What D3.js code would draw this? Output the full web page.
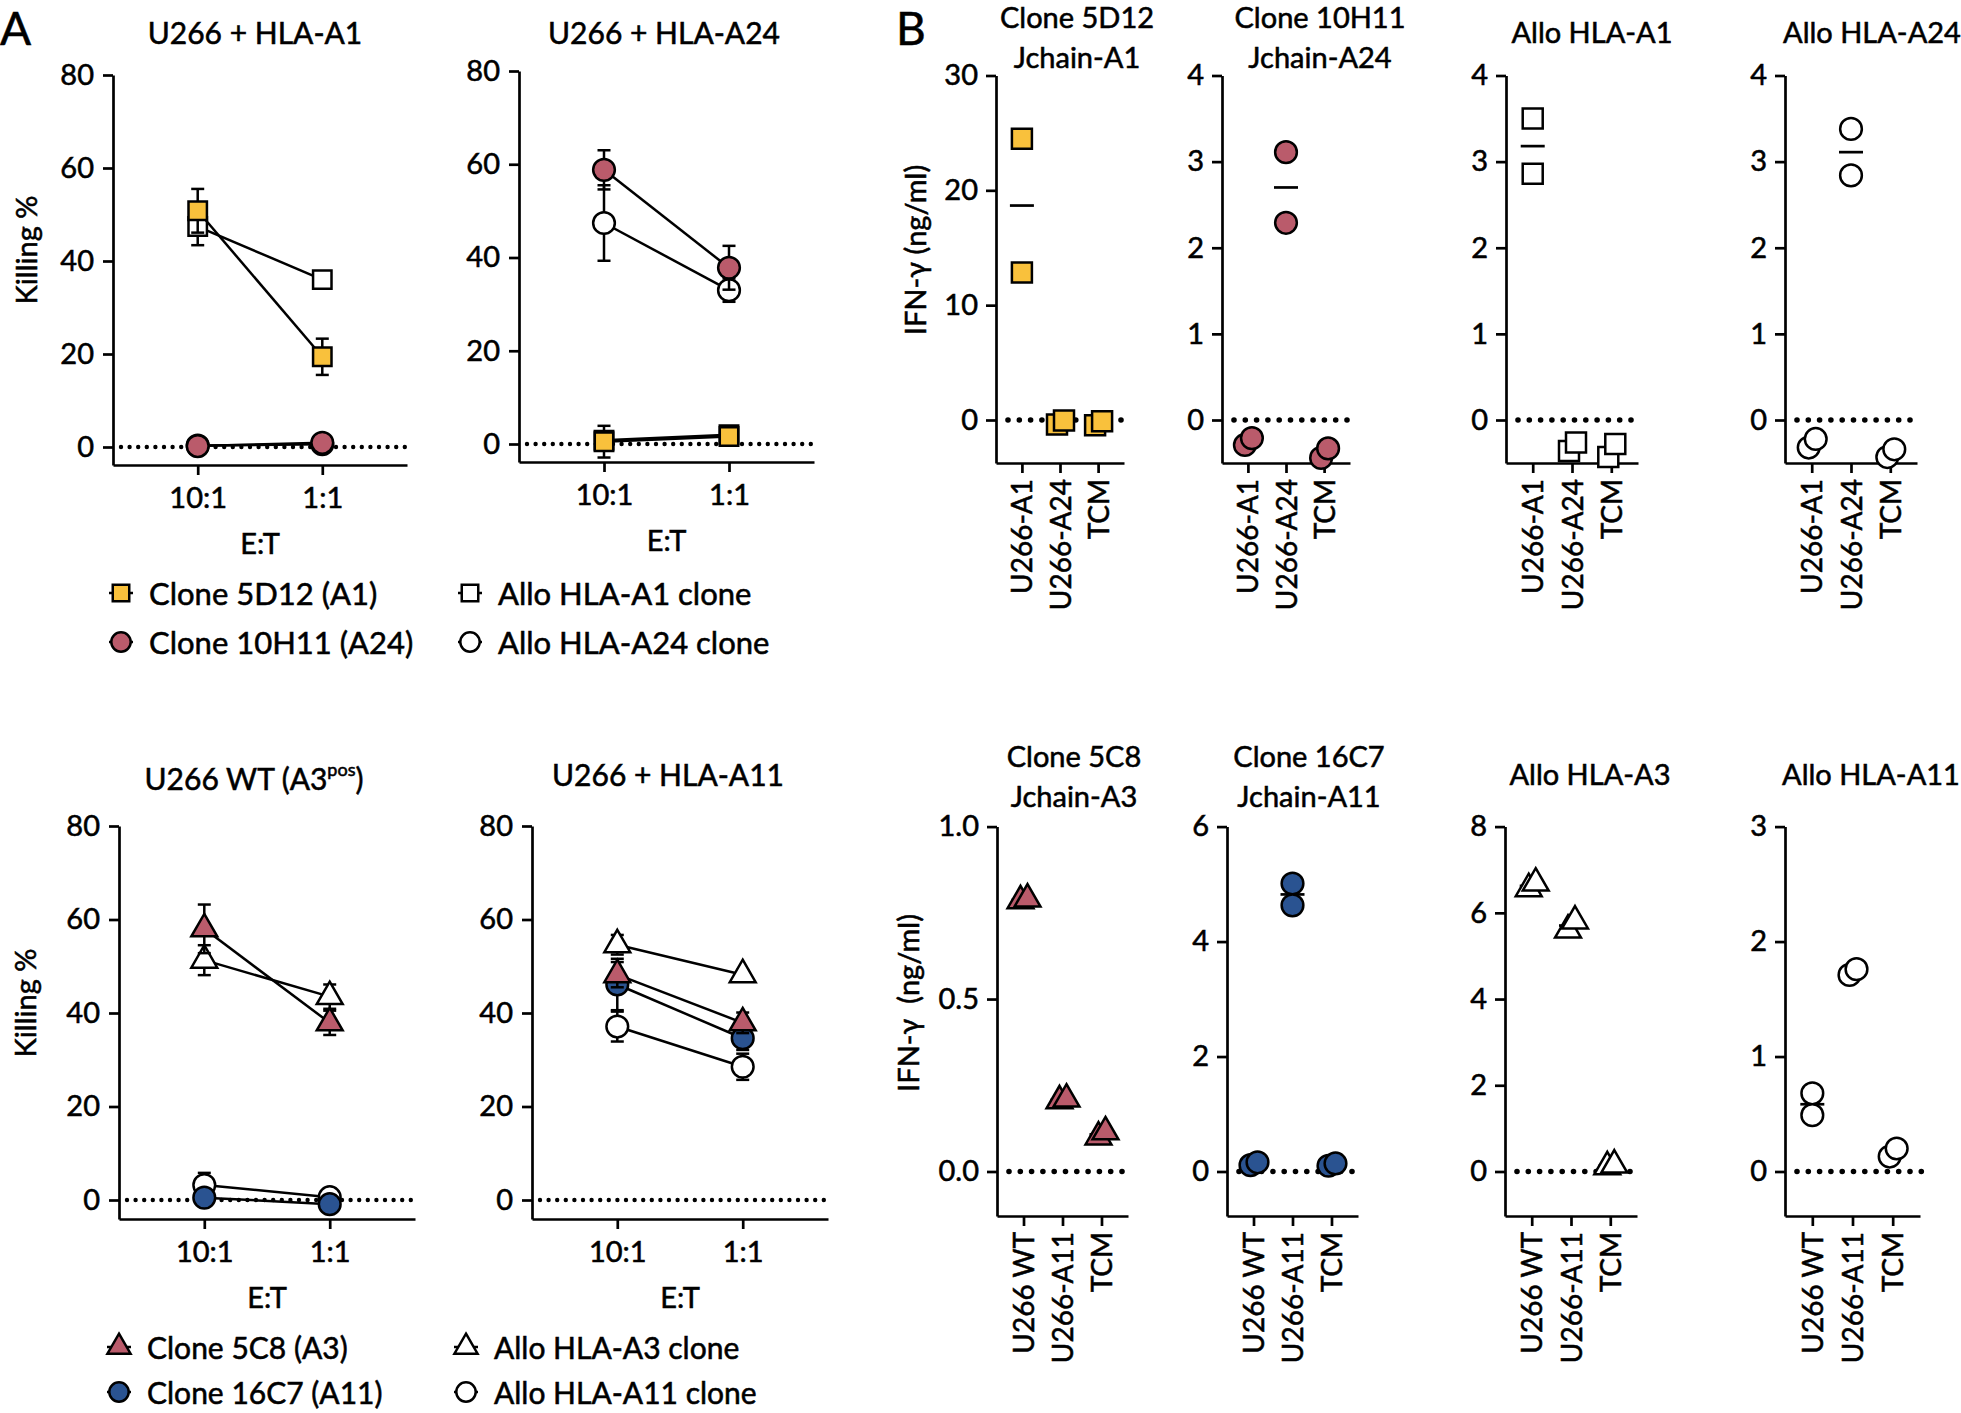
<!DOCTYPE html>
<html>
<head>
<meta charset="utf-8">
<script src="https://cdn.jsdelivr.net/npm/d3@7"></script>
<style>
  body { margin: 0; background: #fff; }
  svg text { font-family: Lato, "Open Sans", sans-serif; fill: #000; stroke: #000; stroke-width: 0.55px; }
</style>
</head>
<body>
<svg id="fig" width="1961" height="1413"></svg>
<script>

// ---- A: killing % at each E:T ratio (mean, sem) ----
var etRatios = ["10:1", "1:1"];
var killTicks = [0, 20, 40, 60, 80];

// U266 + HLA-A1
var a1Clone5D12 = [50.8, 19.4], a1Clone5D12Sem = [4.7, 3.9];
var a1Clone10H11 = [0.2, 0.9], a1Clone10H11Sem = [0.4, 0.4];
var a1AlloA1 = [47.4, 36.0], a1AlloA1Sem = [4.0, 1.8];
var a1AlloA24 = [0.3, 0.6], a1AlloA24Sem = [0.4, 0.4];

// U266 + HLA-A24
var a24Clone5D12 = [0.5, 1.6], a24Clone5D12Sem = [3.4, 0.8];
var a24Clone10H11 = [58.8, 37.8], a24Clone10H11Sem = [4.2, 4.7];
var a24AlloA1 = [0.8, 2.0], a24AlloA1Sem = [0.8, 0.5];
var a24AlloA24 = [47.4, 33.0], a24AlloA24Sem = [8.1, 2.5];

// U266 WT (A3pos)
var wtClone5C8 = [58.0, 37.9], wtClone5C8Sem = [5.2, 2.6];
var wtClone16C7 = [0.5, -0.9], wtClone16C7Sem = [0.5, 0.5];
var wtAlloA3 = [51.3, 43.5], wtAlloA3Sem = [3.2, 2.6];
var wtAlloA11 = [3.2, 0.6], wtAlloA11Sem = [2.6, 1.8];

// U266 + HLA-A11
var a11Clone5C8 = [48.2, 37.9], a11Clone5C8Sem = [2.7, 2.2];
var a11Clone16C7 = [46.1, 34.6], a11Clone16C7Sem = [5.5, 2.5];
var a11AlloA3 = [54.6, 48.2], a11AlloA3Sem = [2.1, 1.0];
var a11AlloA11 = [37.1, 28.5], a11AlloA11Sem = [3.2, 2.8];

// ---- B: IFN-gamma ng/ml, two replicates per target ----
var targetsA1A24 = ["U266-A1", "U266-A24", "TCM"];
var targetsA3A11 = ["U266 WT", "U266-A11", "TCM"];

var ifn5D12 = [[24.5, 12.85], [-0.4, -0.05], [-0.45, -0.1]];
var ifn10H11 = [[-0.29, -0.21], [3.11, 2.29], [-0.44, -0.33]];
var ifnAlloA1 = [[3.5, 2.86], [-0.36, -0.26], [-0.43, -0.28]];
var ifnAlloA24 = [[-0.32, -0.22], [3.38, 2.84], [-0.43, -0.34]];

var ifn5C8 = [[0.785, 0.79], [0.205, 0.21], [0.1, 0.115]];
var ifn16C7 = [[0.11, 0.16], [5.01, 4.63], [0.1, 0.14]];
var ifnAlloA3 = [[6.56, 6.69], [5.6, 5.81], [0.11, 0.15]];
var ifnAlloA11 = [[0.68, 0.49], [1.71, 1.76], [0.13, 0.2]];

var ticks5D12 = [0, 10, 20, 30];
var ticks0to4 = [0, 1, 2, 3, 4];
var ticks5C8 = [0, 0.5, 1.0];
var ticks16C7 = [0, 2, 4, 6];
var ticksAlloA3 = [0, 2, 4, 6, 8];
var ticksAlloA11 = [0, 1, 2, 3];

var yellow = "#F9C13C", rose = "#BA5B6B", navy = "#2A5391", ink = "#000";

var marks = {
  clone5D12: { type: d3.symbolSquare, fill: yellow, size: 340 },
  clone10H11: { type: d3.symbolCircle, fill: rose, size: 370 },
  alloA1: { type: d3.symbolSquare, fill: "#fff", size: 340 },
  alloA24: { type: d3.symbolCircle, fill: "#fff", size: 370 },
  clone5C8: { type: d3.symbolTriangle, fill: rose, size: 290 },
  clone16C7: { type: d3.symbolCircle, fill: navy, size: 370 },
  alloA3: { type: d3.symbolTriangle, fill: "#fff", size: 290 },
  alloA11: { type: d3.symbolCircle, fill: "#fff", size: 370 }
};

var svg = d3.select("#fig");

function styleAxis(g, fs) {
  g.select(".domain").attr("stroke", ink).attr("stroke-width", 2.7);
  g.selectAll(".tick line").attr("stroke", ink).attr("stroke-width", 2.7);
  g.selectAll(".tick text").attr("font-size", fs).attr("fill", ink);
  return g;
}

function zeroLine(g, x0, x1, y, w, gap) {
  g.append("line")
    .attr("x1", x0).attr("x2", x1).attr("y1", y).attr("y2", y)
    .attr("stroke", ink).attr("stroke-width", w)
    .attr("stroke-linecap", "round")
    .attr("stroke-dasharray", "0 " + gap);
}

function killingPanel(p) {
  var g = svg.append("g");
  var x = d3.scalePoint().domain(etRatios).range([p.x0, p.x1]).padding(0.68);
  var y = d3.scaleLinear().domain([0, 80]).range([p.yZero, p.yTop]);
  y.domain([y.invert(p.yAxis), 80]).range([p.yAxis, p.yTop]);

  zeroLine(g, p.x0 + 8, p.x1, y(0), 4.4, 8.6);

  styleAxis(g.append("g").attr("transform", "translate(0," + p.yAxis + ")")
    .call(d3.axisBottom(x).tickSize(10).tickPadding(12).tickSizeOuter(0)), 29);
  styleAxis(g.append("g").attr("transform", "translate(" + p.x0 + ",0)")
    .call(d3.axisLeft(y).tickValues(killTicks).tickSize(10).tickPadding(9).tickSizeOuter(0)), 29);

  p.series.forEach(function(s) {
    var m = marks[s.key];
    var sg = g.append("g");
    s.vals.forEach(function(v, i) {
      var cx = x(etRatios[i]);
      var lo = y(v - s.sem[i]), hi = y(v + s.sem[i]);
      sg.append("line").attr("x1", cx).attr("x2", cx).attr("y1", lo).attr("y2", hi)
        .attr("stroke", ink).attr("stroke-width", 2.5);
      [lo, hi].forEach(function(yy) {
        sg.append("line").attr("x1", cx - 6.5).attr("x2", cx + 6.5).attr("y1", yy).attr("y2", yy)
          .attr("stroke", ink).attr("stroke-width", 2.5);
      });
    });
    sg.append("path").datum(s.vals)
      .attr("d", d3.line().x(function(d, i) { return x(etRatios[i]); }).y(function(d) { return y(d); }))
      .attr("fill", "none").attr("stroke", ink).attr("stroke-width", 2.5);
    sg.selectAll("path.mk").data(s.vals).join("path").attr("class", "mk")
      .attr("transform", function(d, i) { return "translate(" + x(etRatios[i]) + "," + y(d) + ")"; })
      .attr("d", d3.symbol().type(m.type).size(m.size))
      .attr("fill", m.fill).attr("stroke", ink).attr("stroke-width", 2.5);
  });

  var t = g.append("text").attr("x", p.titleX).attr("y", p.titleY)
    .attr("text-anchor", "middle").attr("dominant-baseline", "central").attr("font-size", 30);
  t.append("tspan").text(p.title);
  if (p.sup) {
    t.append("tspan").attr("font-size", 18).attr("dy", -9).text(p.sup);
    t.append("tspan").attr("dy", 9).text(")");
  }

  g.append("text").attr("x", (p.x0 + p.x1) / 2).attr("y", p.yAxis + 77)
    .attr("text-anchor", "middle").attr("dominant-baseline", "central").attr("font-size", 29)
    .text("E:T");

  if (p.yLabel) {
    g.append("text").attr("transform", "translate(" + p.yLabelX + "," + p.yLabelY + ") rotate(-90)")
      .attr("text-anchor", "middle").attr("dominant-baseline", "central").attr("font-size", 29)
      .text("Killing %");
  }
}

function ifnPanel(p) {
  var g = svg.append("g");
  var x = d3.scalePoint().domain(p.cats).range([p.x0, p.x1]).padding(0.68);
  var y = d3.scaleLinear().domain([0, p.max]).range([p.yZero, p.yTop]);
  y.domain([y.invert(p.yAxis), p.max]).range([p.yAxis, p.yTop]);

  zeroLine(g, p.x0 + 12, p.x1 + 4, y(0), 5.6, 11.3);

  var gx = styleAxis(g.append("g").attr("transform", "translate(0," + p.yAxis + ")")
    .call(d3.axisBottom(x).tickSize(10).tickSizeOuter(0)), 28);
  gx.selectAll(".tick text")
    .attr("transform", "rotate(-90)").attr("text-anchor", "end")
    .attr("x", -16).attr("y", 0).attr("dy", "0.36em");
  styleAxis(g.append("g").attr("transform", "translate(" + p.x0 + ",0)")
    .call(d3.axisLeft(y).tickValues(p.ticks).tickSize(10).tickPadding(8).tickSizeOuter(0)
      .tickFormat(d3.format(p.fmt || "d"))), 29);

  var m = marks[p.key];
  p.reps.forEach(function(r, i) {
    var cx = x(p.cats[i]);
    var mean = d3.mean(r);
    g.append("line").attr("x1", cx - 12).attr("x2", cx + 12).attr("y1", y(mean)).attr("y2", y(mean))
      .attr("stroke", ink).attr("stroke-width", 2.7);
    var close = Math.abs(y(r[0]) - y(r[1])) < 20;
    var hiVal = d3.max(r);
    g.selectAll(null).data(r).join("path")
      .attr("transform", function(d) {
        var dx = close ? (d === hiVal ? 4 : -3) : 0;
        return "translate(" + (cx + dx) + "," + y(d) + ")";
      })
      .attr("d", d3.symbol().type(m.type).size(p.size || m.size))
      .attr("fill", m.fill).attr("stroke", ink).attr("stroke-width", 2.5);
  });

  p.title.forEach(function(line, i) {
    g.append("text").attr("x", p.titleX).attr("y", p.titleY + i * 40)
      .attr("text-anchor", "middle").attr("dominant-baseline", "central").attr("font-size", 29)
      .text(line);
  });

  if (p.yLabel) {
    g.append("text").attr("transform", "translate(" + p.yLabelX + "," + p.yLabelY + ") rotate(-90)")
      .attr("text-anchor", "middle").attr("dominant-baseline", "central").attr("font-size", 29)
      .attr("xml:space", "preserve")
      .text(p.yLabel);
  }
}

function legend(items, xs, ys, fs) {
  items.forEach(function(it, i) {
    var col = Math.floor(i / 2), row = i % 2;
    var m = marks[it.key];
    var g = svg.append("g").attr("transform", "translate(" + xs[col] + "," + ys[row] + ")");
    g.append("line").attr("x1", -12).attr("x2", 12).attr("stroke", ink).attr("stroke-width", 2.5);
    g.append("path").attr("d", d3.symbol().type(m.type).size(m.size * 0.8))
      .attr("fill", m.fill).attr("stroke", ink).attr("stroke-width", 2.5);
    g.append("text").attr("x", 28).attr("dominant-baseline", "central").attr("font-size", fs).text(it.label);
  });
}

// panel letters
svg.append("text").attr("x", 0).attr("y", 45).attr("font-size", 46).text("A");
svg.append("text").attr("x", 896).attr("y", 45).attr("font-size", 46).text("B");

killingPanel({
  x0: 113, x1: 407, yTop: 75, yZero: 447, yAxis: 465,
  title: "U266 + HLA-A1", titleX: 255, titleY: 32,
  yLabel: true, yLabelX: 25, yLabelY: 250,
  series: [
    { key: "alloA24", vals: a1AlloA24, sem: a1AlloA24Sem },
    { key: "clone10H11", vals: a1Clone10H11, sem: a1Clone10H11Sem },
    { key: "alloA1", vals: a1AlloA1, sem: a1AlloA1Sem },
    { key: "clone5D12", vals: a1Clone5D12, sem: a1Clone5D12Sem }
  ]
});

killingPanel({
  x0: 519, x1: 814, yTop: 71, yZero: 444, yAxis: 462,
  title: "U266 + HLA-A24", titleX: 664, titleY: 32,
  series: [
    { key: "alloA24", vals: a24AlloA24, sem: a24AlloA24Sem },
    { key: "clone10H11", vals: a24Clone10H11, sem: a24Clone10H11Sem },
    { key: "alloA1", vals: a24AlloA1, sem: a24AlloA1Sem },
    { key: "clone5D12", vals: a24Clone5D12, sem: a24Clone5D12Sem }
  ]
});

killingPanel({
  x0: 119, x1: 415, yTop: 826, yZero: 1200, yAxis: 1219,
  title: "U266 WT (A3", sup: "pos", titleX: 254, titleY: 778,
  yLabel: true, yLabelX: 24, yLabelY: 1003,
  series: [
    { key: "alloA11", vals: wtAlloA11, sem: wtAlloA11Sem },
    { key: "clone16C7", vals: wtClone16C7, sem: wtClone16C7Sem },
    { key: "alloA3", vals: wtAlloA3, sem: wtAlloA3Sem },
    { key: "clone5C8", vals: wtClone5C8, sem: wtClone5C8Sem }
  ]
});

killingPanel({
  x0: 532, x1: 828, yTop: 826, yZero: 1200, yAxis: 1219,
  title: "U266 + HLA-A11", titleX: 668, titleY: 774,
  series: [
    { key: "alloA11", vals: a11AlloA11, sem: a11AlloA11Sem },
    { key: "clone16C7", vals: a11Clone16C7, sem: a11Clone16C7Sem },
    { key: "clone5C8", vals: a11Clone5C8, sem: a11Clone5C8Sem },
    { key: "alloA3", vals: a11AlloA3, sem: a11AlloA3Sem }
  ]
});

legend([
  { key: "clone5D12", label: "Clone 5D12 (A1)" },
  { key: "clone10H11", label: "Clone 10H11 (A24)" },
  { key: "alloA1", label: "Allo HLA-A1 clone" },
  { key: "alloA24", label: "Allo HLA-A24 clone" }
], [121, 470], [593, 642], 31);

legend([
  { key: "clone5C8", label: "Clone 5C8 (A3)" },
  { key: "clone16C7", label: "Clone 16C7 (A11)" },
  { key: "alloA3", label: "Allo HLA-A3 clone" },
  { key: "alloA11", label: "Allo HLA-A11 clone" }
], [119, 466], [1347, 1392], 30);

// B, top row
var topRow = { yTop: 75.5, yZero: 420, yAxis: 463 };
ifnPanel(Object.assign({}, topRow, {
  x0: 996, x1: 1124, cats: targetsA1A24, key: "clone5D12", reps: ifn5D12,
  max: 30, ticks: ticks5D12, title: ["Clone 5D12", "Jchain-A1"], titleX: 1077, titleY: 16,
  size: 400, yLabel: "IFN-\u03b3 (ng/ml)", yLabelX: 914, yLabelY: 250
}));
ifnPanel(Object.assign({}, topRow, {
  x0: 1222, x1: 1350, cats: targetsA1A24, key: "clone10H11", reps: ifn10H11,
  max: 4, ticks: ticks0to4, title: ["Clone 10H11", "Jchain-A24"], titleX: 1320, titleY: 16
}));
ifnPanel(Object.assign({}, topRow, {
  x0: 1506, x1: 1638, cats: targetsA1A24, key: "alloA1", reps: ifnAlloA1,
  max: 4, ticks: ticks0to4, title: ["Allo HLA-A1"], titleX: 1592, titleY: 31, size: 400
}));
ifnPanel(Object.assign({}, topRow, {
  x0: 1785, x1: 1917, cats: targetsA1A24, key: "alloA24", reps: ifnAlloA24,
  max: 4, ticks: ticks0to4, title: ["Allo HLA-A24"], titleX: 1872, titleY: 31
}));

// B, bottom row
var botRow = { yTop: 826.6, yZero: 1171.5, yAxis: 1216 };
ifnPanel(Object.assign({}, botRow, {
  x0: 997, x1: 1128, cats: targetsA3A11, key: "clone5C8", reps: ifn5C8,
  max: 1.0, ticks: ticks5C8, fmt: ".1f", title: ["Clone 5C8", "Jchain-A3"], titleX: 1074, titleY: 755,
  yLabel: "IFN-\u03b3  (ng/ml)", yLabelX: 907, yLabelY: 1003
}));
ifnPanel(Object.assign({}, botRow, {
  x0: 1227, x1: 1358, cats: targetsA3A11, key: "clone16C7", reps: ifn16C7,
  max: 6, ticks: ticks16C7, title: ["Clone 16C7", "Jchain-A11"], titleX: 1309, titleY: 755
}));
ifnPanel(Object.assign({}, botRow, {
  x0: 1505, x1: 1637, cats: targetsA3A11, key: "alloA3", reps: ifnAlloA3,
  max: 8, ticks: ticksAlloA3, title: ["Allo HLA-A3"], titleX: 1590, titleY: 773
}));
ifnPanel(Object.assign({}, botRow, {
  x0: 1785, x1: 1920, cats: targetsA3A11, key: "alloA11", reps: ifnAlloA11,
  max: 3, ticks: ticksAlloA11, title: ["Allo HLA-A11"], titleX: 1871, titleY: 773
}));

</script>
</body>
</html>
